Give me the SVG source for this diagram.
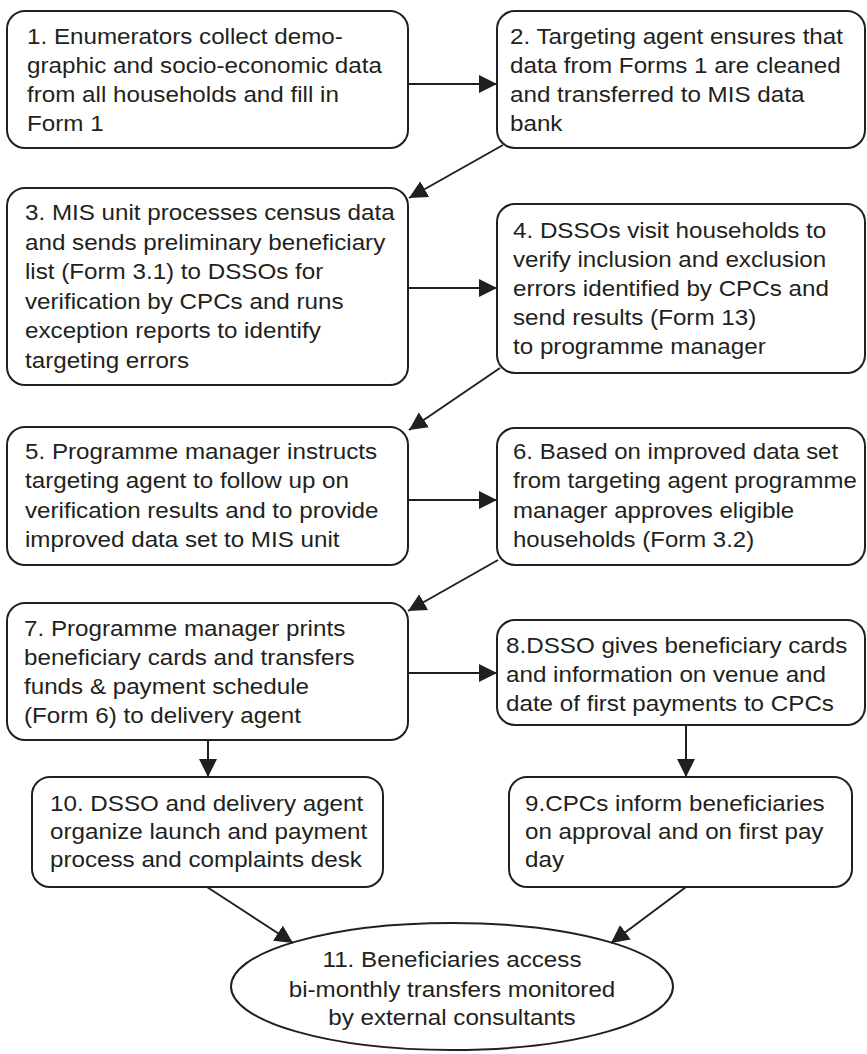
<svg xmlns="http://www.w3.org/2000/svg" width="867" height="1054" viewBox="0 0 867 1054">
<style>
.box{fill:#fff;stroke:#231f20;stroke-width:2}
.t{font-family:"Liberation Sans",Arial,sans-serif;font-size:22px;fill:#231f20}
.c{fill:none;stroke:#231f20;stroke-width:2;marker-end:url(#ah)}
</style>
<defs>
<marker id="ah" markerUnits="userSpaceOnUse" markerWidth="19" markerHeight="19" refX="18" refY="9" orient="auto" viewBox="0 0 19 19">
<path d="M0,0 L18,9 L0,18 z" fill="#231f20"/>
</marker>
</defs>
<rect width="867" height="1054" fill="#fff"/>
<g id="n1">
<rect class="box" x="7" y="11" width="401" height="137" rx="18"/>
<text class="t" transform="translate(27 0) scale(1.1 1)"><tspan x="0" y="44">1. Enumerators collect demo-</tspan><tspan x="0" y="73">graphic and socio-economic data</tspan><tspan x="0" y="102">from all households and fill in</tspan><tspan x="0" y="131">Form 1</tspan></text>
</g>
<g id="n2">
<rect class="box" x="497" y="11" width="368" height="137" rx="18"/>
<text class="t" transform="translate(510 0) scale(1.1 1)"><tspan x="0" y="44">2. Targeting agent ensures that</tspan><tspan x="0" y="73">data from Forms 1 are cleaned</tspan><tspan x="0" y="102">and transferred to MIS data</tspan><tspan x="0" y="131">bank</tspan></text>
</g>
<g id="n3">
<rect class="box" x="7" y="188" width="401" height="197" rx="18"/>
<text class="t" transform="translate(25 0) scale(1.1 1)"><tspan x="0" y="220">3. MIS unit processes census data</tspan><tspan x="0" y="249.6">and sends preliminary beneficiary</tspan><tspan x="0" y="279.2">list (Form 3.1) to DSSOs for</tspan><tspan x="0" y="308.8">verification by CPCs and runs</tspan><tspan x="0" y="338.4">exception reports to identify</tspan><tspan x="0" y="368">targeting errors</tspan></text>
</g>
<g id="n4">
<rect class="box" x="497" y="204" width="368" height="169" rx="18"/>
<text class="t" transform="translate(513 0) scale(1.1 1)"><tspan x="0" y="238">4. DSSOs visit households to</tspan><tspan x="0" y="267">verify inclusion and exclusion</tspan><tspan x="0" y="296">errors identified by CPCs and</tspan><tspan x="0" y="325">send results (Form 13)</tspan><tspan x="0" y="354">to programme manager</tspan></text>
</g>
<g id="n5">
<rect class="box" x="7" y="427" width="401" height="138" rx="18"/>
<text class="t" transform="translate(25 0) scale(1.1 1)"><tspan x="0" y="459">5. Programme manager instructs</tspan><tspan x="0" y="488.5">targeting agent to follow up on</tspan><tspan x="0" y="518">verification results and to provide</tspan><tspan x="0" y="547.5">improved data set to MIS unit</tspan></text>
</g>
<g id="n6">
<rect class="box" x="497" y="428" width="368" height="137" rx="18"/>
<text class="t" transform="translate(513 0) scale(1.09 1)"><tspan x="0" y="459">6. Based on improved data set</tspan><tspan x="0" y="488.5">from targeting agent programme</tspan><tspan x="0" y="518">manager approves eligible</tspan><tspan x="0" y="547.5">households (Form 3.2)</tspan></text>
</g>
<g id="n7">
<rect class="box" x="7" y="603" width="401" height="137" rx="18"/>
<text class="t" transform="translate(24 0) scale(1.1 1)"><tspan x="0" y="636">7. Programme manager prints</tspan><tspan x="0" y="665">beneficiary cards and transfers</tspan><tspan x="0" y="694">funds &amp; payment schedule</tspan><tspan x="0" y="723">(Form 6) to delivery agent</tspan></text>
</g>
<g id="n8">
<rect class="box" x="497" y="620" width="368" height="105" rx="18"/>
<text class="t" transform="translate(506 0) scale(1.1 1)"><tspan x="0" y="653">8.DSSO gives beneficiary cards</tspan><tspan x="0" y="682">and information on venue and</tspan><tspan x="0" y="711">date of first payments to CPCs</tspan></text>
</g>
<g id="n9">
<rect class="box" x="509" y="777" width="343" height="110" rx="18"/>
<text class="t" transform="translate(525 0) scale(1.1 1)"><tspan x="0" y="811">9.CPCs inform beneficiaries</tspan><tspan x="0" y="839">on approval and on first pay</tspan><tspan x="0" y="867">day</tspan></text>
</g>
<g id="n10">
<rect class="box" x="32" y="777" width="351" height="110" rx="18"/>
<text class="t" transform="translate(50 0) scale(1.1 1)"><tspan x="0" y="811">10. DSSO and delivery agent</tspan><tspan x="0" y="839">organize launch and payment</tspan><tspan x="0" y="867">process and complaints desk</tspan></text>
</g>
<g id="n11">
<ellipse class="box" cx="452" cy="986.5" rx="221" ry="63.5"/>
<text class="t" text-anchor="middle" transform="translate(452 0) scale(1.1 1)"><tspan x="0" y="967">11. Beneficiaries access</tspan><tspan x="0" y="997">bi-monthly transfers monitored</tspan><tspan x="0" y="1025">by external consultants</tspan></text>
</g>
<g id="connectors">
<line class="c" x1="408" y1="84" x2="497" y2="84"/>
<line class="c" x1="503" y1="145" x2="409" y2="198"/>
<line class="c" x1="408" y1="288" x2="497" y2="288"/>
<line class="c" x1="500" y1="368" x2="409" y2="430"/>
<line class="c" x1="408" y1="500" x2="497" y2="500"/>
<line class="c" x1="498" y1="560" x2="408" y2="611"/>
<line class="c" x1="408" y1="673" x2="497" y2="673"/>
<line class="c" x1="208" y1="740" x2="208" y2="777"/>
<line class="c" x1="686" y1="725" x2="686" y2="777"/>
<line class="c" x1="207" y1="887" x2="293" y2="943"/>
<line class="c" x1="686" y1="887" x2="611" y2="943"/>
</g>
</svg>
